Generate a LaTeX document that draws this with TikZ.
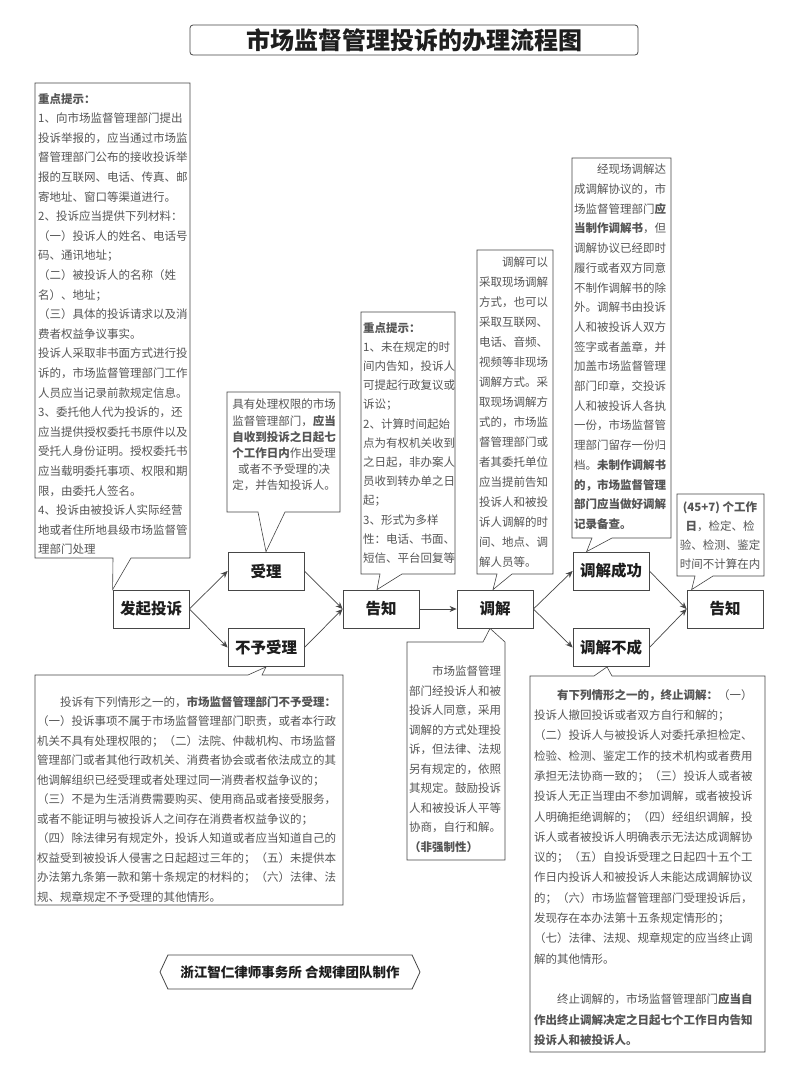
\documentclass[tikz,border=0pt]{standalone}
\usepackage{fontspec}
\setmainfont{Noto Sans CJK SC}
\usetikzlibrary{arrows.meta,calc,shapes.symbols}
\definecolor{linegray}{RGB}{70,70,70}
\definecolor{notegray}{RGB}{85,85,85}
\definecolor{labelblack}{RGB}{30,30,30}

\begin{document}
\begin{tikzpicture}[x=1pt,y=-1pt,
  >={Stealth[length=7pt,width=6pt]},
  stage/.style={draw=linegray,line width=0.8pt,minimum width=76pt,minimum height=38pt,inner sep=0pt,font=\fontsize{15.5pt}{18pt}\selectfont\bfseries,text=labelblack},
  note/.style={font=\fontsize{11.5pt}{19.6pt}\selectfont,text=notegray,align=left,inner sep=0pt,anchor=north west},
  noteframe/.style={draw=linegray,line width=0.6pt,fill=white},
  ar/.style={->,line width=0.7pt,linegray}
]
\fill[white] (0,0) rectangle (800,1088);
\useasboundingbox (0,0) rectangle (800,1088);

% title
\node[draw=linegray,line width=0.8pt,rounded corners=3pt,minimum width=448pt,minimum height=30pt,inner sep=0pt,
  font=\fontsize{24pt}{26pt}\selectfont\bfseries,text=labelblack] (title) at (414,40) {市场监督管理投诉的办理流程图};

% main flow
\node[stage] (fq)   at (151,609)   {发起投诉};
\node[stage] (sl)   at (266,571)   {受理};
\node[stage] (bsl)  at (266,647.5) {不予受理};
\node[stage] (gz1)  at (381,609)   {告知};
\node[stage] (tj)   at (495,609)   {调解};
\node[stage] (tjcg) at (611,571)   {调解成功};
\node[stage] (tjbc) at (611,647.5) {调解不成};
\node[stage] (gz2)  at (725,609)   {告知};

\draw[ar] (fq.east) -- (sl.west);
\draw[ar] (fq.east) -- (bsl.west);
\draw[ar] (sl.east) -- (gz1.west);
\draw[ar] (bsl.east) -- (gz1.west);
\draw[ar] (gz1.east) -- (tj.west);
\draw[ar] (tj.east) -- (tjcg.west);
\draw[ar] (tj.east) -- (tjbc.west);
\draw[ar] (tjcg.east) -- (gz2.west);
\draw[ar] (tjbc.east) -- (gz2.west);

% callout frames
\draw[noteframe] (35,83) -- (190,83) -- (190,558) -- (131,558) -- (fq.north west) -- (113,558) -- (35,558) -- cycle;
\draw[noteframe] (227,392) -- (340,392) -- (340,512) -- (285,512) -- (sl.north) -- (258,512) -- (227,512) -- cycle;
\draw[noteframe] (361,312) -- (455,312) -- (455,574) -- (402,574) -- ($(gz1.north)+(-4,0)$) -- (380,574) -- (361,574) -- cycle;
\draw[noteframe] (477,250) -- (553,250) -- (553,574) -- (512,574) -- ($(tj.north)+(-2,0)$) -- (497,574) -- (477,574) -- cycle;
\draw[noteframe] (572,158) -- (671,158) -- (671,538) -- (612,538) -- ($(tjcg.north west)+(14,0)$) -- (592,538) -- (572,538) -- cycle;
\draw[noteframe] (677,494) -- (764,494) -- (764,576) -- (713,576) -- ($(gz2.north west)+(5,0)$) -- (695,576) -- (677,576) -- cycle;
\draw[noteframe] (35,675) -- (248,675) -- (bsl.south) -- (262,675) -- (343,675) -- (343,905) -- (35,905) -- cycle;
\draw[noteframe] (407,642) -- (483,642) -- ($(tj.south)+(-5,0)$) -- (505,642) -- (505,860) -- (407,860) -- cycle;
\draw[noteframe] (530,676) -- (594,676) -- ($(tjbc.south)+(-4,0)$) -- (612,676) -- (765,676) -- (765,1052) -- (530,1052) -- cycle;

% callout texts
\node[note] (n1) at (38,93) {\textbf{重点提示：}\\1、向市场监督管理部门提出\\投诉举报的，应当通过市场监\\督管理部门公布的接收投诉举\\报的互联网、电话、传真、邮\\寄地址、窗口等渠道进行。\\2、投诉应当提供下列材料：\\（一）投诉人的姓名、电话号\\码、通讯地址；\\（二）被投诉人的名称（姓\\名）、地址；\\（三）具体的投诉请求以及消\\费者权益争议事实。\\投诉人采取非书面方式进行投\\诉的，市场监督管理部门工作\\人员应当记录前款规定信息。\\3、委托他人代为投诉的，还\\应当提供授权委托书原件以及\\受托人身份证明。授权委托书\\应当载明委托事项、权限和期\\限，由委托人签名。\\4、投诉由被投诉人实际经营\\地或者住所地县级市场监督管\\理部门处理};

\node[note,anchor=north,align=center,font=\fontsize{11.5pt}{16.2pt}\selectfont] (n2) at (284,399) {具有处理权限的市场\\监督管理部门，\textbf{应当}\\\textbf{自收到投诉之日起七}\\\textbf{个工作日内}作出受理\\或者不予受理的决\\定，并告知投诉人。};

\node[note,font=\fontsize{11.5pt}{19.2pt}\selectfont] (n3) at (363,322) {\textbf{重点提示：}\\1、未在规定的时\\间内告知，投诉人\\可提起行政复议或\\诉讼；\\2、计算时间起始\\点为有权机关收到\\之日起，非办案人\\员收到转办单之日\\起；\\3、形式为多样\\性：电话、书面、\\短信、平台回复等};

\node[note,font=\fontsize{11.5pt}{20pt}\selectfont] (n4) at (479,257) {　　调解可以\\采取现场调解\\方式，也可以\\采取互联网、\\电话、音频、\\视频等非现场\\调解方式。采\\取现场调解方\\式的，市场监\\督管理部门或\\者其委托单位\\应当提前告知\\投诉人和被投\\诉人调解的时\\间、地点、调\\解人员等。};

\node[note,font=\fontsize{11.5pt}{19.7pt}\selectfont] (n5) at (574,164) {　　经现场调解达\\成调解协议的，市\\场监督管理部门\textbf{应}\\\textbf{当制作调解书}，但\\调解协议已经即时\\履行或者双方同意\\不制作调解书的除\\外。调解书由投诉\\人和被投诉人双方\\签字或者盖章，并\\加盖市场监督管理\\部门印章，交投诉\\人和被投诉人各执\\一份，市场监督管\\理部门留存一份归\\档。\textbf{未制作调解书}\\\textbf{的，市场监督管理}\\\textbf{部门应当做好调解}\\\textbf{记录备查。}};

\node[note,anchor=north,align=center,font=\fontsize{11.5pt}{19pt}\selectfont] (n6) at (720,501) {\textbf{(45+7) 个工作}\\\textbf{日}，检定、检\\验、检测、鉴定\\时间不计算在内};

\node[note,font=\fontsize{11.5pt}{19.5pt}\selectfont] (n7) at (37,696) {　　投诉有下列情形之一的，\textbf{市场监督管理部门不予受理：}\\（一）投诉事项不属于市场监督管理部门职责，或者本行政\\机关不具有处理权限的；（二）法院、仲裁机构、市场监督\\管理部门或者其他行政机关、消费者协会或者依法成立的其\\他调解组织已经受理或者处理过同一消费者权益争议的；\\（三）不是为生活消费需要购买、使用商品或者接受服务，\\或者不能证明与被投诉人之间存在消费者权益争议的；\\（四）除法律另有规定外，投诉人知道或者应当知道自己的\\权益受到被投诉人侵害之日起超过三年的；（五）未提供本\\办法第九条第一款和第十条规定的材料的；（六）法律、法\\规、规章规定不予受理的其他情形。};

\node[note,font=\fontsize{11.5pt}{19.5pt}\selectfont] (n8) at (409,666) {　　市场监督管理\\部门经投诉人和被\\投诉人同意，采用\\调解的方式处理投\\诉，但法律、法规\\另有规定的，依照\\其规定。鼓励投诉\\人和被投诉人平等\\协商，自行和解。\\\textbf{（非强制性）}};

\node[note,font=\fontsize{11.5pt}{20.3pt}\selectfont] (n9) at (534,689) {　　\textbf{有下列情形之一的，终止调解：}（一）\\投诉人撤回投诉或者双方自行和解的；\\（二）投诉人与被投诉人对委托承担检定、\\检验、检测、鉴定工作的技术机构或者费用\\承担无法协商一致的；（三）投诉人或者被\\投诉人无正当理由不参加调解，或者被投诉\\人明确拒绝调解的；（四）经组织调解，投\\诉人或者被投诉人明确表示无法达成调解协\\议的；（五）自投诉受理之日起四十五个工\\作日内投诉人和被投诉人未能达成调解协议\\的；（六）市场监督管理部门受理投诉后，\\发现存在本办法第十五条规定情形的；\\（七）法律、法规、规章规定的应当终止调\\解的其他情形。\\ \\　　终止调解的，市场监督管理部门\textbf{应当自}\\\textbf{作出终止调解决定之日起七个工作日内告知}\\\textbf{投诉人和被投诉人。}};

% maker tag
\node[draw=linegray,line width=0.8pt,shape=signal,signal to=west and east,signal pointer angle=130,minimum width=260pt,minimum height=34pt,inner sep=0pt,
  font=\fontsize{13.5pt}{16pt}\selectfont\bfseries,text=labelblack] (maker) at (290,972) {浙江智仁律师事务所 合规律团队制作};
\end{tikzpicture}
\end{document}
